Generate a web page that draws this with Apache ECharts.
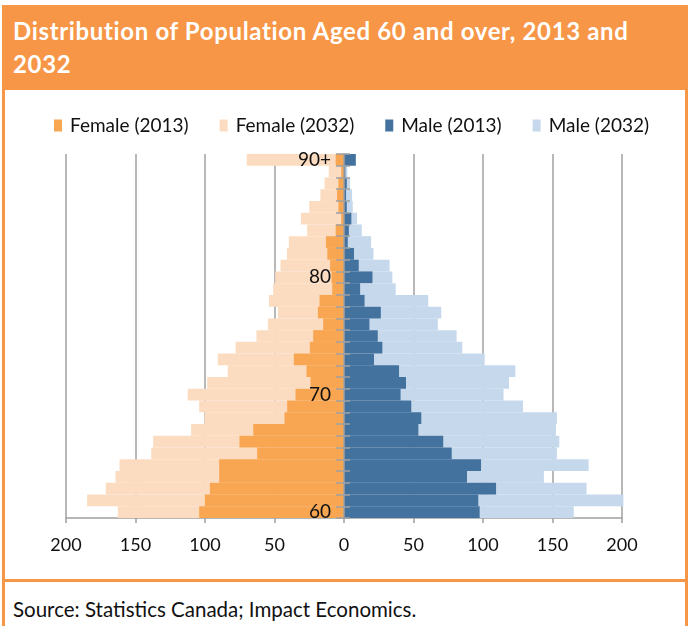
<!DOCTYPE html>
<html>
<head>
<meta charset="utf-8">
<script src="https://cdn.jsdelivr.net/npm/echarts@6.0.0/dist/echarts.min.js"></script>
<style>
  body { margin: 0; width: 689px; height: 626px; overflow: hidden; background: #fff; font-family: Lato, "Open Sans", sans-serif; }
  #frame { position: absolute; left: 2px; top: 5px; width: 686px; height: 640px; border: 3px solid #F79646; box-sizing: border-box; }
  #head { position: absolute; left: 2px; top: 5px; width: 686px; height: 85px; background: #F79646; color: #fff;
          font-weight: bold; font-size: 24px; letter-spacing: 0.65px; line-height: 33px; padding: 9px 0 0 11px; box-sizing: border-box; }
  #sep { position: absolute; left: 2px; top: 579px; width: 686px; height: 3px; background: #F79646; }
  #src { position: absolute; left: 13px; top: 596px; font-size: 20.5px; line-height: 26px; color: #111; }
  #chart { position: absolute; left: 0; top: 0; width: 689px; height: 626px; }
</style>
</head>
<body>
<div id="frame"></div>
<div id="head">Distribution of Population Aged 60 and over, 2013 and<br>2032</div>
<div id="sep"></div>
<div id="src">Source: Statistics Canada; Impact Economics.</div>
<div id="chart"></div>
<script>
// ages from 60 (bottom) up to 90+ (top)
const ages = []
for (let a = 60; a < 90; a++) ages.push(String(a))
ages.push('90+')

const female2013 = [104.2, 100.1, 96.5, 89.8, 89.8, 62.5, 75.2, 65.3, 42.8, 40.9, 34.9, 24.1, 27, 36.1, 24.6, 22.2,
    15, 18.8, 17.6, 8.5, 9, 10, 12, 13, 6, 2, 4, 5, 4, 2, 6]
const female2032 = [162.7, 184.8, 171.4, 164.4, 161.5, 138.7, 137.3, 110, 100.4, 104.2, 112.4, 98.4, 83.6, 90.8, 78, 63,
    54.8, 47.6, 54, 51, 49.5, 45.7, 41, 39.7, 26.5, 31, 25, 17, 14, 11, 70]
const male2013 = [97.6, 96.6, 109.4, 88.5, 98.6, 77.5, 71.4, 53.5, 55.6, 48.4, 40.7, 44.6, 39.6, 21.6, 27.6, 24.3,
    18.3, 26.5, 14.8, 11.6, 20.5, 10.6, 7.2, 2.7, 3.5, 5.3, 2, 1.5, 2, 1, 8.5]
const male2032 = [165.3, 201, 174.5, 143.8, 176, 153.2, 154.9, 152.5, 153.2, 128.8, 114.8, 118.7, 123.3, 101.2, 85.1, 81,
    67.5, 70, 60.6, 37.2, 34.8, 32.8, 21.2, 19.5, 12.8, 9.4, 6.3, 5.8, 4.3, 2.4, 6]

const names = ['Female (2013)', 'Female (2032)', 'Male (2013)', 'Male (2032)']
const colors = { 'Female (2013)': '#F9A652', 'Female (2032)': '#FCDCC1', 'Male (2013)': '#44729F', 'Male (2032)': '#C6D9EC' }
const gray = '#A0A0A0'
// the age axis sits on x = 0, i.e. half way across the plot
const gridLeft = 66, gridRight = 67
const zeroOffset = -(689 - gridLeft - gridRight) / 2

function bar(name, data) {
    return {
        name: name,
        type: 'bar',
        data: data,
        barGap: '-100%',
        barCategoryGap: '0%',
        clip: false,
        itemStyle: { color: colors[name] },
        emphasis: { disabled: true }
    }
}

const chart = echarts.init(document.getElementById('chart'))
chart.setOption({
    animation: false,
    textStyle: { fontFamily: 'Lato' },
    legend: {
        data: names,
        left: 49, top: 111,
        itemWidth: 8, itemHeight: 12, itemGap: 31,
        icon: 'rect',
        textStyle: { fontSize: 19, color: '#111', padding: [0, 0, 0, 3] }
    },
    grid: { left: gridLeft, right: gridRight, top: 154, bottom: 108 },
    xAxis: {
        type: 'value', min: -200, max: 200, interval: 50,
        axisLine: { show: true, lineStyle: { color: gray, width: 1.5 } },
        axisTick: { show: true, length: 5, lineStyle: { color: gray, width: 1.5 } },
        axisLabel: { color: '#111', fontSize: 18, margin: 18, formatter: v => Math.abs(v) },
        splitLine: { show: true, lineStyle: { color: gray, width: 1.5 } }
    },
    yAxis: [{
        type: 'category', data: ages, z: 10, position: 'left', offset: zeroOffset,
        axisLine: { onZero: false, lineStyle: { color: gray, width: 1.5 } },
        axisTick: { show: true, interval: 0, length: 8, lineStyle: { color: gray, width: 1.5 } },
        axisLabel: { interval: 9, color: '#111', fontSize: 19, margin: 13 },
        splitLine: { show: false }
    }, {
        type: 'category', data: ages, z: 10, position: 'left', offset: zeroOffset,
        axisLine: { show: false, onZero: false },
        axisTick: { show: true, inside: true, interval: 0, length: 6, lineStyle: { color: gray, width: 1.5 } },
        axisLabel: { show: false },
        splitLine: { show: false }
    }],
    series: [
        bar('Female (2032)', female2032.map(v => -v)),
        bar('Male (2032)', male2032),
        bar('Female (2013)', female2013.map(v => -v)),
        bar('Male (2013)', male2013)
    ]
})
</script>
</body>
</html>
